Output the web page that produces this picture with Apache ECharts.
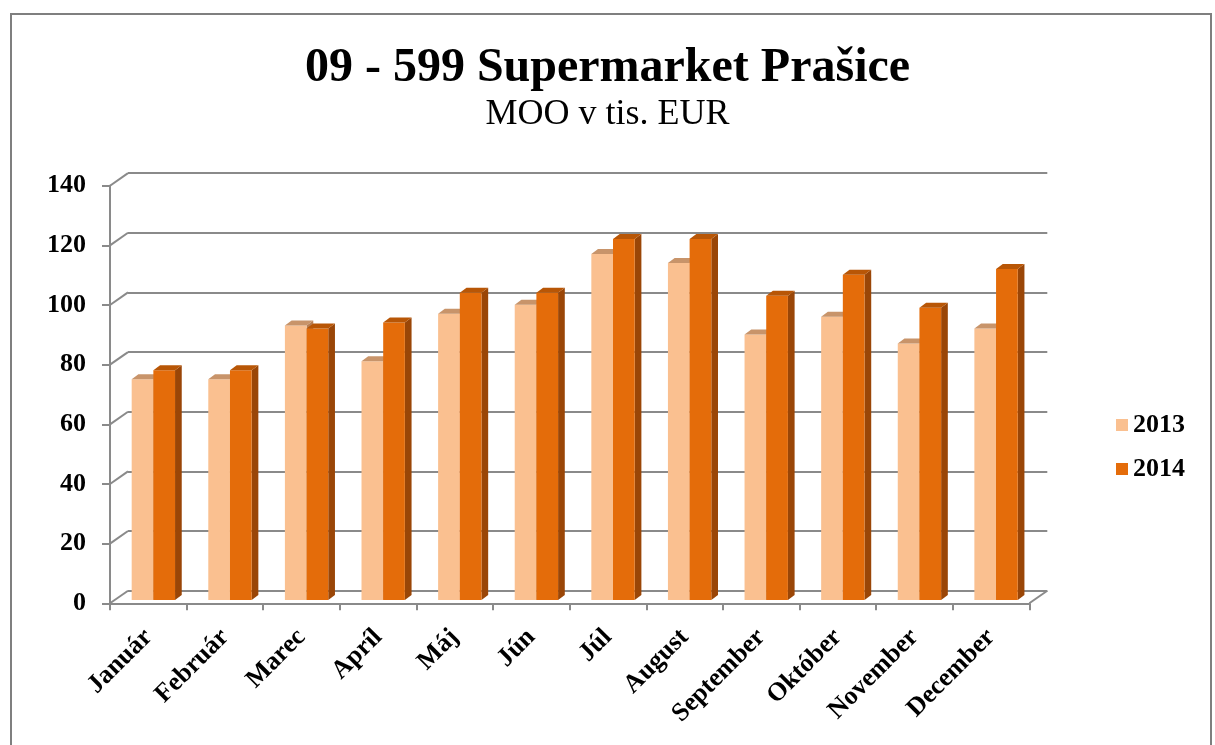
<!DOCTYPE html>
<html>
<head>
<meta charset="utf-8">
<title>09 - 599 Supermarket Prašice</title>
<script src="https://cdn.jsdelivr.net/npm/echarts@6/dist/echarts.min.js"></script>
<style>
	html, body { margin: 0; padding: 0; background: #fff; }
	#chart { width: 1215px; height: 745px; }
</style>
</head>
<body>
<div id="chart"></div>
<script>
// data
var months = ['Január', 'Február', 'Marec', 'Apríl', 'Máj', 'Jún', 'Júl', 'August', 'September', 'Október', 'November', 'December'];
var years = ['2013', '2014'];
var val2013 = [74, 74, 92, 80, 96, 99, 116, 113, 89, 95, 86, 91];
var val2014 = [77, 77, 91, 93, 103, 103, 121, 121, 102, 109, 98, 111];
var yTicks = [0, 20, 40, 60, 80, 100, 120, 140];

var FONT = '"Liberation Serif", "Times New Roman", serif';
var GRID_COLOR = '#8a8a8a';
// depth of the back wall (px)
var WALL_DX = 18, WALL_DY = 12.6;

/**
 * pair list for the custom series
 */
function toPairs(arr) {
	var out = [];
	for (var i = 0; i < arr.length; i++) {
		out.push([i, arr[i]]);
	}
	return out;
}

/**
 * 3d-ish column: front face, top face, right side
 * @param idx position inside the category (0 or 1)
 * @param c colors {front, top, side}
 */
function columnRenderer(idx, c) {
	return function (params, api) {
		var i = api.value(0);
		var top = api.coord([i, api.value(1)]);
		var base = api.coord([i, 0]);
		var band = api.size([1, 0])[0];
		var w = band * 0.283;
		var x0 = top[0] + band * (-0.217 + idx * 0.283);
		var yt = top[1] - 3.3, yb = base[1] - 3.3;
		var dx = 6.7, dy = 5;
		return {
			type: 'group',
			children: [
				{ type: 'polygon', shape: { points: [[x0 + w, yt], [x0 + w + dx, yt - dy], [x0 + w + dx, yb - dy], [x0 + w, yb]] }, style: { fill: c.side } },
				{ type: 'rect', shape: { x: x0, y: yt, width: w, height: yb - yt }, style: { fill: c.front } },
				{ type: 'polygon', shape: { points: [[x0, yt], [x0 + dx, yt - dy], [x0 + w + dx, yt - dy], [x0 + w, yt]] }, style: { fill: c.top } }
			]
		};
	};
}

/**
 * diagonals from the front axis to the back wall
 */
function wallRenderer(params, api) {
	var cs = params.coordSys;
	var v = api.value(1);
	var y = api.coord([0, v])[1];
	var style = { stroke: GRID_COLOR, lineWidth: 2 };
	var kids = [{ type: 'line', shape: { x1: cs.x, y1: y, x2: cs.x + WALL_DX, y2: y - WALL_DY }, style: style }];
	if (v === 0) {
		kids.push({ type: 'line', shape: { x1: cs.x + cs.width, y1: y, x2: cs.x + cs.width + WALL_DX, y2: y - WALL_DY }, style: style });
	}
	return { type: 'group', children: kids };
}

var wallData = [];
for (var k = 0; k < yTicks.length; k++) {
	wallData.push([0, yTicks[k]]);
}

var myChart = echarts.init(document.getElementById('chart'));

var frontGrid = { left: 110, right: 185.7, top: 185.7, bottom: 141.7 };

myChart.setOption({
	animation: false,
	textStyle: { fontFamily: FONT },
	title: [{
		text: '09 - 599 Supermarket Prašice',
		left: 'center',
		top: 40,
		textStyle: { fontFamily: FONT, fontSize: 48, fontWeight: 'bold', color: '#000' }
	}, {
		text: 'MOO v tis. EUR',
		left: 'center',
		top: 92,
		textStyle: { fontFamily: FONT, fontSize: 36, fontWeight: 'normal', color: '#000' }
	}],
	legend: {
		orient: 'vertical',
		left: 1111,
		top: 407,
		icon: 'rect',
		itemWidth: 12,
		itemHeight: 12,
		itemGap: 18,
		data: years,
		textStyle: { fontFamily: FONT, fontSize: 26, fontWeight: 'bold', color: '#000' }
	},
	grid: [
		frontGrid,
		// back wall
		{
			left: frontGrid.left + WALL_DX,
			right: frontGrid.right - WALL_DX,
			top: frontGrid.top - WALL_DY,
			bottom: frontGrid.bottom + WALL_DY
		}
	],
	xAxis: [{
		type: 'category',
		gridIndex: 0,
		data: months,
		axisLine: { lineStyle: { color: GRID_COLOR, width: 2 } },
		axisTick: { show: true, length: 7, lineStyle: { color: GRID_COLOR, width: 2 } },
		axisLabel: {
			rotate: 45,
			margin: 30,
			interval: 0,
			fontFamily: FONT,
			fontSize: 26,
			fontWeight: 'bold',
			color: '#000'
		}
	}, {
		type: 'category',
		gridIndex: 1,
		data: months,
		show: false
	}],
	yAxis: [{
		type: 'value',
		gridIndex: 0,
		min: 0,
		max: 140,
		interval: 20,
		axisLine: { show: true, lineStyle: { color: GRID_COLOR, width: 2 } },
		axisTick: { show: true, length: 8, lineStyle: { color: GRID_COLOR, width: 2 } },
		splitLine: { show: false },
		axisLabel: {
			margin: 24,
			padding: [5, 0, 0, 0],
			fontFamily: FONT,
			fontSize: 26,
			fontWeight: 'bold',
			color: '#000'
		}
	}, {
		type: 'value',
		gridIndex: 1,
		min: 0,
		max: 140,
		interval: 20,
		axisLine: { show: false },
		axisTick: { show: false },
		axisLabel: { show: false },
		splitLine: { show: true, lineStyle: { color: GRID_COLOR, width: 2 } }
	}],
	series: [{
		name: 'wall',
		type: 'custom',
		xAxisIndex: 0,
		yAxisIndex: 0,
		data: wallData,
		encode: { x: 0, y: 1 },
		renderItem: wallRenderer,
		silent: true,
		clip: false,
		z: 1
	}, {
		name: '2013',
		type: 'custom',
		xAxisIndex: 0,
		yAxisIndex: 0,
		data: toPairs(val2013),
		itemStyle: { color: '#FAC090' },
		renderItem: columnRenderer(0, { front: '#FAC090', top: '#C8946A', side: '#B87E52' }),
		encode: { x: 0, y: 1 },
		clip: false,
		z: 3
	}, {
		name: '2014',
		type: 'custom',
		xAxisIndex: 0,
		yAxisIndex: 0,
		data: toPairs(val2014),
		itemStyle: { color: '#E46C0A' },
		renderItem: columnRenderer(1, { front: '#E46C0A', top: '#B85606', side: '#9A4607' }),
		encode: { x: 0, y: 1 },
		clip: false,
		z: 4
	}],
	graphic: [{
		type: 'rect',
		shape: { x: 11, y: 14, width: 1200, height: 750 },
		style: { fill: 'none', stroke: '#7f7f7f', lineWidth: 2 },
		silent: true,
		z: 100
	}]
});
</script>
</body>
</html>
